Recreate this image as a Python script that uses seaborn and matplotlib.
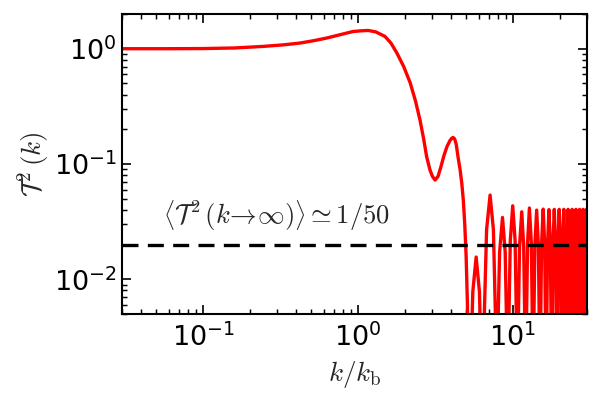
import matplotlib
matplotlib.use("Agg")
import matplotlib.pyplot as plt
import seaborn as sns
import numpy as np
import pandas as pd

# ---- data ----
# smooth low-k part of the transfer function
k_smooth = [0.03, 0.06, 0.10, 0.16, 0.244, 0.33, 0.423, 0.52, 0.631, 0.78, 0.929,
            1.05, 1.16, 1.30, 1.49, 1.63, 1.78, 1.97, 2.17, 2.35, 2.51, 2.65, 2.77,
            2.91, 3.02, 3.14, 3.28, 3.42, 3.58, 3.75, 3.92, 4.02, 4.10, 4.20, 4.30,
            4.43, 4.55, 4.67, 4.78, 4.88, 4.98, 5.08, 5.20]
t2_smooth = [1.0, 1.0, 1.003, 1.015, 1.047, 1.08, 1.12, 1.175, 1.24, 1.33, 1.41,
             1.43, 1.44, 1.40, 1.28, 1.12, 0.918, 0.70, 0.506, 0.35, 0.241, 0.165, 0.116,
             0.089, 0.078, 0.0726, 0.078, 0.094, 0.118, 0.142, 0.160, 0.167, 0.170, 0.165, 0.148,
             0.112, 0.090, 0.068, 0.048, 0.030, 0.016, 0.006, 0.0001]

# oscillating high-k tail (arches between zeros of the transfer function)
k_tail = [5.32, 5.50, 5.78, 6.07, 6.26, 6.38,
          6.53, 6.75, 7.11, 7.47, 7.69, 7.83,
          7.97, 8.19, 8.55, 8.90, 9.11, 9.25,
          9.39, 9.60, 9.95, 10.31, 10.52, 10.66,
          10.80, 11.01, 11.38, 11.71, 11.92, 12.06,
          12.20, 12.41, 12.75, 13.12, 13.33, 13.47,
          13.61, 13.83, 14.20, 14.56, 14.78, 14.92,
          15.06, 15.28, 15.65, 15.99, 16.21, 16.35,
          16.49, 16.70, 17.05, 17.40, 17.61, 17.75,
          17.89, 18.10, 18.45, 18.80, 19.01, 19.15,
          19.29, 19.50, 19.85, 20.20, 20.41, 20.55,
          20.69, 20.90, 21.25, 21.60, 21.81, 21.95,
          22.09, 22.30, 22.65, 23.00, 23.21, 23.35,
          23.49, 23.70, 24.05, 24.40, 24.61, 24.75,
          24.89, 25.10, 25.45, 25.80, 26.01, 26.15,
          26.29, 26.50, 26.85, 27.20, 27.41, 27.55,
          27.69, 27.90, 28.25, 28.60, 28.81, 28.95,
          29.09, 29.30, 29.65, 30.00, 30.21, 30.35]
t2_tail = [0.0015, 0.0078, 0.0156, 0.0078, 0.0015, 0.0001,
           0.0051, 0.0270, 0.0538, 0.0270, 0.0051, 0.0001,
           0.0033, 0.0172, 0.0344, 0.0172, 0.0033, 0.0001,
           0.0041, 0.0217, 0.0434, 0.0217, 0.0041, 0.0001,
           0.0037, 0.0193, 0.0385, 0.0193, 0.0037, 0.0001,
           0.0039, 0.0208, 0.0415, 0.0208, 0.0039, 0.0001,
           0.0038, 0.0199, 0.0398, 0.0199, 0.0038, 0.0001,
           0.0038, 0.0203, 0.0406, 0.0203, 0.0038, 0.0001,
           0.0038, 0.0201, 0.0402, 0.0201, 0.0038, 0.0001,
           0.0038, 0.0202, 0.0404, 0.0202, 0.0038, 0.0001,
           0.0038, 0.0202, 0.0404, 0.0202, 0.0038, 0.0001,
           0.0038, 0.0202, 0.0404, 0.0202, 0.0038, 0.0001,
           0.0038, 0.0202, 0.0404, 0.0202, 0.0038, 0.0001,
           0.0038, 0.0202, 0.0404, 0.0202, 0.0038, 0.0001,
           0.0038, 0.0202, 0.0404, 0.0202, 0.0038, 0.0001,
           0.0038, 0.0202, 0.0404, 0.0202, 0.0038, 0.0001,
           0.0038, 0.0202, 0.0404, 0.0202, 0.0038, 0.0001,
           0.0038, 0.0202, 0.0404, 0.0202, 0.0038, 0.0001]

asymptote = 1.0 / 50.0
x_limits = [0.03, 30.0]
y_limits = [0.005, 2.0]
x_label = r"$k/k_\mathrm{b}$"
y_label = r"$\mathcal{T}^2\,(k)$"
note = r"$\left\langle\mathcal{T}^2\,(k\!\rightarrow\!\infty)\right\rangle\simeq1/50$"

# ---- style ----
sns.set_style("ticks")
plt.rcParams.update({
    "font.family": ["DejaVu Sans"],
    "mathtext.fontset": "cm",
    "axes.unicode_minus": False,
    "xtick.direction": "in",
    "ytick.direction": "in",
    "xtick.top": True,
    "ytick.right": True,
    "xtick.major.size": 4.2,
    "ytick.major.size": 4.2,
    "xtick.minor.size": 2.5,
    "ytick.minor.size": 2.5,
    "xtick.major.width": 0.8,
    "ytick.major.width": 0.8,
    "xtick.minor.width": 0.7,
    "ytick.minor.width": 0.7,
    "axes.linewidth": 1.0,
    "axes.edgecolor": "black",
    "xtick.color": "black",
    "ytick.color": "black",
})

df = pd.DataFrame({"k": k_smooth + k_tail, "T2": t2_smooth + t2_tail})

fig = plt.figure(figsize=(603 / 150, 407 / 150), dpi=150)
ax = fig.add_axes([122 / 603, 1 - 314 / 407, 465 / 603, 300 / 407])

sns.lineplot(data=df, x="k", y="T2", ax=ax, color="#ff0000", lw=1.6,
             sort=False, estimator=None)
ax.axhline(asymptote, color="black", lw=1.6, ls=(0, (4.8, 2.8)))

ax.set_xscale("log")
ax.set_yscale("log")
ax.set_xlim(*x_limits)
ax.set_ylim(*y_limits)

ax.tick_params(axis="both", which="both", labelsize=13)
ax.tick_params(axis="x", which="major", pad=4.5)
ax.tick_params(axis="y", which="major", pad=2.5)

ax.set_xlabel(x_label, fontsize=13)
ax.set_ylabel(y_label, fontsize=13)
ax.xaxis.set_label_coords(0.5, -0.15)
ax.yaxis.set_label_coords(-0.15, 0.5)

ax.text(0.055, 0.036, note, fontsize=12.8, ha="left", va="center")

fig.savefig("out.png", dpi=150)
